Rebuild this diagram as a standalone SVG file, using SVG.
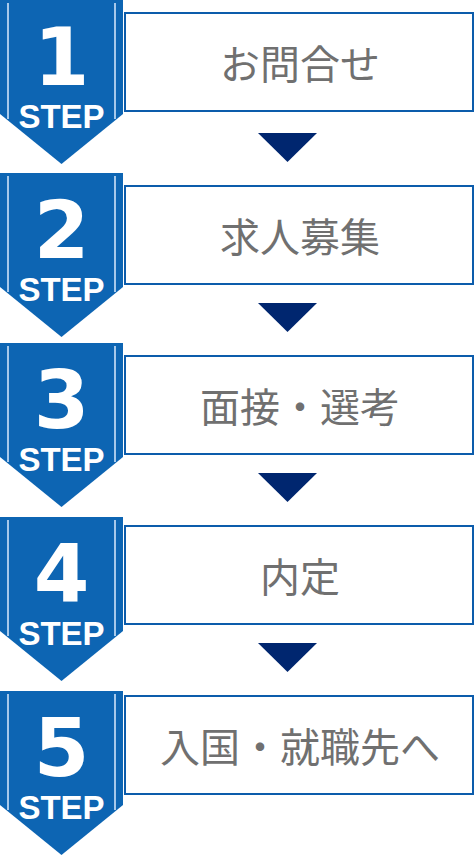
<svg xmlns="http://www.w3.org/2000/svg" width="476" height="856" viewBox="0 0 476 856">
<style>
.badge{fill:#0d65b3}
.rule{stroke:#a6c8ea;stroke-width:2}
.box{fill:#fff;stroke:#0c5cab;stroke-width:2}
.num{font-family:"DejaVu Sans",sans-serif;font-weight:bold;font-size:80px;fill:#fff;text-anchor:middle}
.step{font-family:"Liberation Sans",Arial,sans-serif;font-weight:bold;font-size:33px;fill:#fff;text-anchor:middle}
.lbl{font-family:"Noto Sans CJK JP","Noto Sans",sans-serif;font-size:40px;fill:#707070;text-anchor:middle}
.arr{fill:#00266f}
</style>
<defs>
<g id="badgeShape">
<path class="badge" d="M0,0H123V114L61.5,164L0,114Z"/>
<line class="rule" x1="8" y1="3" x2="8" y2="119"/>
<line class="rule" x1="115" y1="3" x2="115" y2="119"/>
</g>
</defs>
<g id="step1">
<rect class="box" x="125" y="13" width="348" height="98"/>
<use href="#badgeShape" transform="translate(0,0)"/>
<text class="num" x="61.5" y="85">1</text>
<text class="step" x="61.5" y="128">STEP</text>
<text class="lbl" x="300" y="79">お問合せ</text>
</g>
<g id="step2">
<rect class="box" x="125" y="186" width="348" height="98"/>
<use href="#badgeShape" transform="translate(0,173)"/>
<text class="num" x="61.5" y="258">2</text>
<text class="step" x="61.5" y="301">STEP</text>
<text class="lbl" x="300" y="252">求人募集</text>
</g>
<g id="step3">
<rect class="box" x="125" y="356" width="348" height="98"/>
<use href="#badgeShape" transform="translate(0,343)"/>
<text class="num" x="61.5" y="428">3</text>
<text class="step" x="61.5" y="471">STEP</text>
<text class="lbl" x="300" y="422">面接・選考</text>
</g>
<g id="step4">
<rect class="box" x="125" y="526" width="348" height="98"/>
<use href="#badgeShape" transform="translate(0,517)"/>
<text class="num" x="61.5" y="602">4</text>
<text class="step" x="61.5" y="645">STEP</text>
<text class="lbl" x="300" y="592">内定</text>
</g>
<g id="step5">
<rect class="box" x="125" y="696" width="348" height="98"/>
<use href="#badgeShape" transform="translate(0,691)"/>
<text class="num" x="61.5" y="776">5</text>
<text class="step" x="61.5" y="819">STEP</text>
<text class="lbl" x="300" y="762">入国・就職先へ</text>
</g>
<g id="connectors">
<polygon class="arr" points="258,133 317,133 287.5,162"/>
<polygon class="arr" points="258,303 317,303 287.5,332"/>
<polygon class="arr" points="258,473 317,473 287.5,502"/>
<polygon class="arr" points="258,643 317,643 287.5,672"/>
</g>
</svg>
